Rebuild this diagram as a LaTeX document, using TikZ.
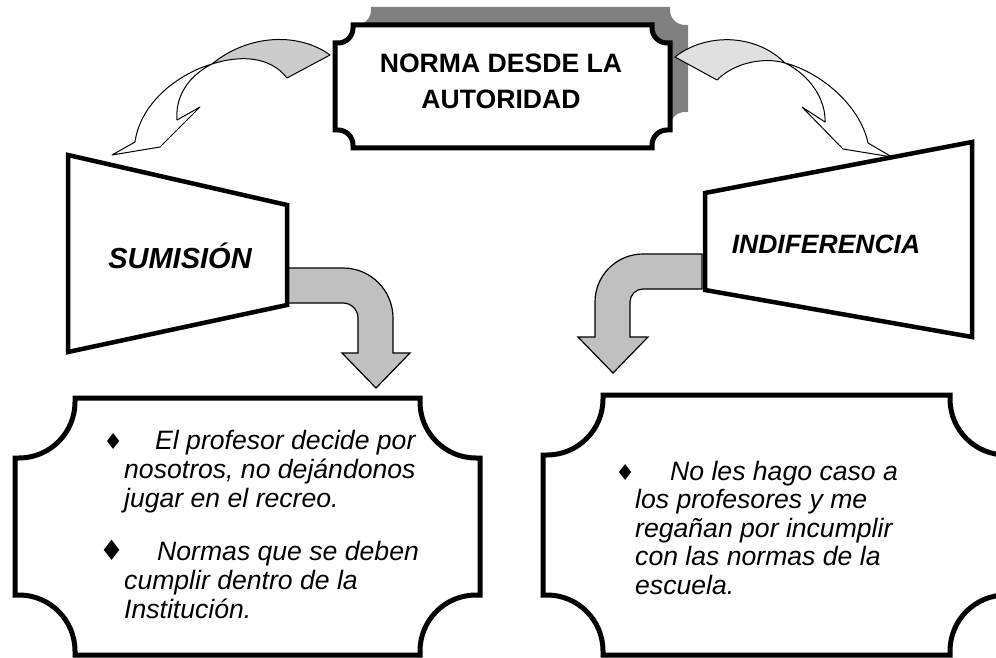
\documentclass[tikz,border=0pt]{standalone}
\usepackage{fontspec}
\setmainfont{Liberation Sans}
\newfontfamily\symfont{DejaVu Sans}

\definecolor{shadowGray}{HTML}{808080}
\definecolor{backGray}{HTML}{CCCCCC}
\definecolor{backLight}{HTML}{E0E0E0}
\definecolor{bentGray}{HTML}{C0C0C0}

% plaque outline: x0, y0, x1, y1, corner radius, tab
\newcommand\plaque[6]{(#1+#5,#2) -- (#3-#5,#2) -- (#3-#5,#2+#6)
  arc[start angle=180, end angle=90, radius=#5-#6] -- (#3,#2+#5)
  -- (#3,#4-#5) -- (#3-#6,#4-#5)
  arc[start angle=270, end angle=180, radius=#5-#6] -- (#3-#5,#4)
  -- (#1+#5,#4) -- (#1+#5,#4-#6)
  arc[start angle=360, end angle=270, radius=#5-#6] -- (#1,#4-#5)
  -- (#1,#2+#5) -- (#1+#6,#2+#5)
  arc[start angle=90, end angle=0, radius=#5-#6] -- cycle}
\newcommand\bulletA{{\symfont\upshape\fontsize{22}{22}\selectfont ♦}}
\newcommand\bulletB{{\symfont\upshape\fontsize{28}{28}\selectfont ♦}}

\begin{document}
\begin{tikzpicture}[x=1pt, y=-1pt, boxStyle/.style={draw, line width=5pt, fill=white}, trapStyle/.style={draw, line width=4.5pt, fill=white}, ribbonStyle/.style={draw, line width=1pt, line join=round}, bentStyle/.style={draw, line width=1.2pt, fill=bentGray}, titleStyle/.style={inner sep=0pt, align=center, font={\fontsize{26.6}{36}\selectfont\bfseries}}, labelStyle/.style={inner sep=0pt, anchor=base}, textStyle/.style={inner sep=0pt, anchor=north west, align=left, font={\fontsize{26.6}{29}\selectfont\itshape\lineskiplimit=-50pt}}]
                    \useasboundingbox (0,0) rectangle (996,658);
                    \clip (0,0) rectangle (996,658);

                    % title with its shadow
                    \fill[shadowGray] \plaque{353}{7}{688}{130}{18}{3};
                    \draw[boxStyle] \plaque{335}{25}{670}{148}{18}{3};
                    \node[titleStyle, anchor=north] (title) at (501,54) {NORMA DESDE LA\\AUTORIDAD};

                    % curved arrows out of the title
                    \draw[ribbonStyle, fill=backGray] (330,55) .. controls (300,33) and (250,33) .. (212,64) .. controls (240,55) and (270,56) .. (287,78) -- cycle;
                    \draw[ribbonStyle, fill=white] (212,64) .. controls (175,75) and (140,105) .. (135,142) -- (112,155) -- (160,147) -- (200,107) -- (177,120) .. controls (175,95) and (190,75) .. (212,64) -- cycle;
                    \draw[ribbonStyle, fill=backLight] (675,57) .. controls (705,33) and (755,33) .. (785,63) .. controls (765,57) and (735,62) .. (717,80) -- cycle;
                    \draw[ribbonStyle, fill=white] (785,63) .. controls (820,72) and (860,105) .. (868,143) -- (892,157) -- (843,149) -- (802,107) -- (825,122) .. controls (826,100) and (810,75) .. (785,63) -- cycle;

                    % bent arrows
                    \draw[bentStyle] (287,268) -- (343,268) arc[start angle=270, end angle=360, radius=50] -- (393,353) -- (410,353) -- (376,388) -- (342,353) -- (358,353) -- (358,318) arc[start angle=0, end angle=-90, radius=15] -- (287,303) -- cycle;
                    \draw[bentStyle] (702,254) -- (643,254) arc[start angle=270, end angle=180, radius=48] -- (595,337) -- (578,337) -- (613,373) -- (648,337) -- (630,337) -- (630,302) arc[start angle=180, end angle=270, radius=13] -- (702,289) -- cycle;

                    \draw[trapStyle] (68,155) -- (287,205) -- (287,305) -- (68,352) -- cycle;
                    \draw[trapStyle] (705,193) -- (972,142) -- (972,337) -- (705,290) -- cycle;
                    \node[labelStyle, font={\fontsize{29}{34}\selectfont\bfseries\itshape}] (sumision) at (180,268) {SUMISIÓN};
                    \node[labelStyle, font={\fontsize{26.5}{32}\selectfont\bfseries\itshape}] (indiferencia) at (826,253) {INDIFERENCIA};

                    % lower boxes
                    \draw[boxStyle] \plaque{15}{398}{480}{655}{60}{4};
                    \draw[boxStyle] \plaque{543}{395}{1010}{655}{60}{4};
                    \node[textStyle] (sumisionText) at (124,430) {\llap{\bulletA\hspace{1pt}}\hspace*{31pt}El profesor decide por\\nosotros, no dejándonos\\jugar en el recreo.\\[24pt]\llap{\bulletB\hspace{0pt}}\hspace*{33pt}Normas que se deben\\cumplir dentro de la\\Institución.};
                    \node[textStyle, font={\fontsize{26.6}{28.5}\selectfont\itshape\lineskiplimit=-50pt}] (indiferenciaText) at (635,461) {\llap{\bulletA}\hspace*{35pt}No les hago caso a\\los profesores y me\\regañan por incumplir\\con las normas de la\\escuela.};
                \end{tikzpicture}
\end{document}
